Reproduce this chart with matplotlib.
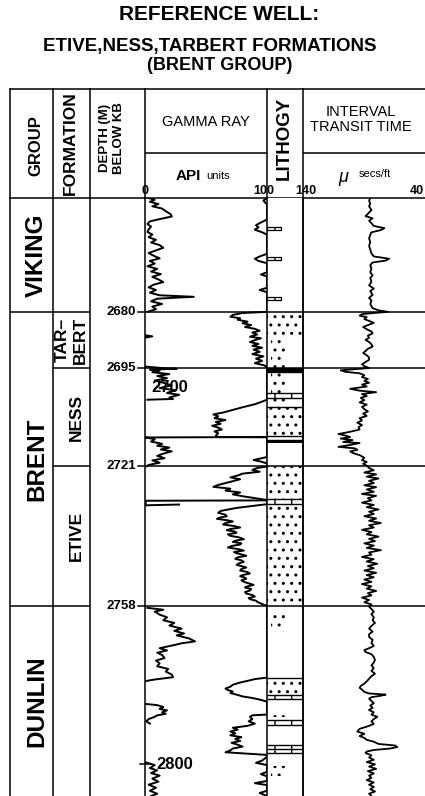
import numpy as np
import matplotlib
matplotlib.use('Agg')
import matplotlib.pyplot as plt

plt.rcParams['font.family'] = ['Liberation Sans', 'DejaVu Sans']
plt.rcParams['hatch.linewidth'] = 1.0

nan = np.nan

top_depth, bot_depth = 2649.8, 2808.4

group_names = ['VIKING', 'BRENT', 'DUNLIN']
group_tops = [2649.8, 2680, 2758]
group_bases = [2680, 2758, 2808.4]

formation_names = ['TAR\u2013\nBERT', 'NESS', 'ETIVE']
formation_tops = [2680, 2695, 2721]
formation_bases = [2695, 2721, 2758]

depth_marks = [2680, 2695, 2721, 2758]
depth_notes = [2700, 2800]

# gamma ray, main trace (API, 0-100 scale, off-scale values sit at 100)
gr_depth = [2649.8, 2650.5, 2651.5, 2655.5, 2656.3, 2657.0, 2657.6, 2658.2, 2658.9, 2659.5,
            2664.6, 2665.3, 2665.9, 2666.5, 2667.1, 2669.5, 2670.1, 2670.6, 2673.6, 2674.2,
            2674.8, 2680.0,
            2680.3, 2680.8, 2681.3, 2681.7, 2682.1, 2682.6, 2683.0, 2683.5, 2684.0, 2684.5,
            2685.0, 2685.5, 2686.0, 2686.6, 2687.0, 2687.5, 2688.0, 2688.5, 2689.0, 2689.5,
            2690.0, 2690.6, 2691.2, 2691.8, 2692.4, 2693.0, 2693.6, 2694.2, 2694.8, 2695.0,
            2703.3, 2703.8, 2704.5, 2705.3, 2706.0, 2706.7, 2707.2, 2707.7, 2708.2, 2708.7,
            2709.2, 2709.7, 2710.2, 2710.7, 2711.2, 2711.7, 2712.2, 2712.8, 2713.2, 2713.25,
            2718.5, 2719.0, 2719.3, 2719.7, 2720.2, 2721.0,
            2721.4, 2721.9, 2722.4, 2722.9, 2723.4, 2723.9, 2724.4, 2724.9, 2725.4, 2725.9,
            2726.4, 2726.9, 2727.4, 2727.9, 2728.4, 2728.9, 2729.4, 2729.9, 2731.0, 2732.0,
            2732.8, 2733.3, 2733.8, 2734.2, 2734.6, 2734.9, 2735.3, 2735.6, 2736.0, 2736.4,
            2736.8, 2737.2, 2737.6, 2737.9, 2738.3, 2738.6, 2739.0, 2739.4, 2739.8, 2740.3,
            2740.7, 2741.0, 2741.4, 2741.7, 2742.1, 2742.5, 2742.9, 2743.3, 2743.7, 2744.0,
            2744.4, 2744.7, 2745.1, 2745.5, 2745.9, 2746.3, 2746.7, 2747.1, 2747.5, 2747.8,
            2748.2, 2748.6, 2749.0, 2749.4, 2749.8, 2750.1, 2750.5, 2750.8, 2751.2, 2751.6,
            2752.0, 2752.4, 2752.8, 2753.1, 2753.5, 2753.9, 2754.3, 2754.7, 2755.1, 2755.5,
            2755.9, 2756.2, 2756.6, 2756.9, 2757.5, 2758.0,
            2777.0, 2777.4, 2777.8, 2778.3, 2778.9, 2779.4, 2779.9, 2780.3, 2780.7, 2781.1,
            2781.6, 2782.0, 2782.4, 2782.9, 2783.4, 2786.8, 2787.0, 2787.4, 2788.0, 2788.6,
            2789.2, 2789.8, 2790.3, 2790.8, 2791.3, 2791.8, 2792.3, 2792.8, 2793.3, 2793.8,
            2794.3, 2794.8, 2795.3, 2795.8, 2796.3, 2796.8, 2797.2, 2797.5, 2798.0, 2799.0,
            2799.6, 2800.2, 2802.0, 2802.6, 2803.2, 2804.4, 2805.0, 2805.5, 2807.0, 2807.6,
            2808.4]
gr_api = [100, 97, 100, 100, 95, 91, 93, 90, 96, 100,
          100, 94, 90, 93, 100, 100, 95, 100, 100, 94,
          100, 100,
          80, 72, 70, 78, 76, 84, 80, 87, 82, 90,
          94, 88, 92, 86, 95, 90, 86, 93, 88, 96,
          89, 94, 88, 97, 91, 96, 90, 98, 100, 100,
          100, 96, 90, 80, 72, 64, 56, 60, 57, 66,
          58, 62, 55, 60, 63, 57, 60, 58, 60, 100,
          100, 93, 89, 95, 100, 100,
          92, 88, 94, 80, 76, 70, 78, 72, 66, 60,
          56, 70, 66, 78, 72, 80, 90, 100, 100, 75,
          62, 60, 66, 67, 61, 59, 68, 72, 66, 64,
          73, 78, 70, 67, 74, 75, 68, 70, 77, 81,
          74, 72, 79, 78, 71, 68, 76, 81, 73, 75,
          80, 83, 76, 74, 79, 81, 77, 75, 80, 83,
          79, 78, 84, 86, 80, 78, 82, 83, 79, 81,
          85, 89, 84, 82, 87, 86, 82, 83, 88, 90,
          85, 86, 91, 92, 96, 100,
          100, 90, 85, 78, 72, 70, 66, 68, 72, 70,
          76, 80, 88, 95, 100, 100, 88, 86, 88, 85,
          90, 84, 72, 76, 70, 74, 70, 79, 74, 78,
          71, 76, 80, 72, 70, 66, 85, 100, 100, 96,
          91, 100, 100, 95, 100, 100, 90, 100, 100, 94,
          100]

# gamma ray, wrapped trace (values above 100 API re-plotted from 0)
gr_wrap_depth = [2649.8, 2650.3, 2650.8, 2651.4, 2652.0, 2652.6, 2653.3, 2654.1, 2654.7, 2655.4,
                 2656.0, 2656.7, 2657.4, 2658.1, 2658.8, 2659.5, 2660.2, 2660.9, 2661.6, 2662.3,
                 2663.0, 2663.7, 2664.4, 2665.1, 2665.8, 2666.5, 2667.2, 2667.9, 2668.6, 2669.3,
                 2670.0, 2670.7, 2671.4, 2672.1, 2672.8, 2673.5, 2674.2, 2674.9, 2675.6, 2676.0,
                 2676.5, 2677.2, 2677.9, 2678.6, 2679.3, 2680.0, nan,
                 2686.2, 2686.5, 2686.8, nan,
                 2694.5, 2694.9, 2695.1, 2695.3, 2695.6, 2696.0, 2696.5, 2697.0, 2697.6, 2698.2,
                 2698.8, 2699.5, 2700.2, 2700.8, 2701.5, 2702.0, 2702.7, 2703.1, 2703.3, nan,
                 2713.2, 2713.3, 2713.8, 2714.4, 2715.0, 2715.5, 2716.0, 2716.5, 2717.0, 2717.6,
                 2718.2, 2718.8, 2719.4, 2720.0, 2720.6, 2721.0, nan,
                 2730.0, 2730.1, 2731.3, 2731.1, nan,
                 2758.5, 2759.0, 2759.5, 2760.3, 2761.0, 2761.8, 2762.5, 2763.2, 2764.0, 2764.6,
                 2765.3, 2765.8, 2766.6, 2767.4, 2767.9, 2768.5, 2769.2, 2769.8, 2770.4, 2771.0,
                 2771.8, 2772.5, 2773.2, 2774.0, 2774.7, 2775.4, 2776.2, 2776.9, 2777.5, 2777.9, nan,
                 2784.0, 2784.3, 2784.8, 2785.3, 2785.7, 2786.2, 2786.6, 2787.0, 2787.4, 2788.0,
                 2788.6, 2789.2, nan,
                 2799.5, 2800.2, 2801.0, 2801.6, 2802.3, 2803.0, 2803.8, 2804.6, 2805.4, 2806.2,
                 2807.0, 2807.8, 2808.4]
gr_wrap_api = [3, 8, 4, 11, 6, 14, 17, 21, 22, 12,
               4, 2, 5, 3, 2, 6, 3, 9, 5, 12,
               15, 9, 3, 7, 12, 4, 8, 2, 10, 5,
               13, 6, 11, 15, 7, 3, 9, 4, 12, 40,
               10, 5, 14, 6, 9, 2, nan,
               0.5, 6, 0.5, nan,
               0.5, 14, 26, 4, 12, 6, 20, 10, 18, 8,
               15, 22, 12, 25, 18, 28, 20, 23, 2, nan,
               100, 0.5, 8, 5, 14, 10, 20, 13, 22, 15,
               10, 16, 6, 12, 3, 1, nan,
               100, 0.5, 0.5, 28, nan,
               2, 15, 8, 12, 18, 15, 24, 20, 30, 24,
               32, 26, 36, 41, 30, 22, 12, 18, 10, 14,
               16, 9, 12, 10, 19, 17, 22, 23, 8, 1, nan,
               1, 10, 15, 12, 18, 14, 17, 10, 8, 3,
               1, 4, nan,
               1, 8, 4, 10, 5, 12, 6, 11, 3, 9,
               4, 10, 5]

# interval transit time (micro-sec/ft)
itt_depth = [2649.8, 2650.5, 2651.3, 2652.0, 2653.0, 2654.0, 2654.6, 2655.2, 2655.8, 2656.5,
             2657.2, 2657.8, 2658.3, 2658.9, 2659.6, 2660.5, 2661.5, 2662.5, 2663.5, 2664.5,
             2665.3, 2665.9, 2666.4, 2666.9, 2667.6, 2668.5, 2669.5, 2670.3, 2671.0, 2672.0,
             2673.0, 2673.8, 2674.5, 2675.5, 2676.3, 2677.0, 2678.0, 2679.0, 2679.6, 2680.0,
             2680.3, 2680.6, 2681.0, 2681.4, 2681.9, 2682.4, 2682.9, 2683.4, 2684.0, 2684.6,
             2685.2, 2685.7, 2686.3, 2686.9, 2687.4, 2688.0, 2688.6, 2689.2, 2689.8, 2690.4,
             2690.9, 2691.5, 2692.1, 2692.7, 2693.3, 2693.9, 2694.4, 2694.9, 2695.2, 2695.5,
             2695.9, 2696.3, 2696.8, 2697.3, 2697.8, 2698.3, 2698.8, 2699.3, 2699.8, 2700.4,
             2700.9, 2701.3, 2701.8, 2702.3, 2702.8, 2703.4, 2704.0, 2704.6, 2705.2, 2705.8,
             2706.4, 2707.0, 2707.6, 2708.2, 2708.8, 2709.4, 2710.0, 2710.6, 2711.2, 2711.8,
             2712.4, 2712.8, 2713.2, 2713.6, 2714.0, 2714.5, 2714.8, 2715.3, 2715.8, 2716.2,
             2716.6, 2717.0, 2717.4, 2718.0, 2718.7, 2719.3, 2719.8, 2720.3, 2720.8, 2721.4,
             2722.0, 2722.6, 2723.1, 2723.7, 2724.2, 2724.8, 2725.4, 2726.0, 2726.5, 2727.1,
             2727.7, 2728.3, 2728.8, 2729.4, 2730.0, 2730.6, 2731.2, 2731.8, 2732.4, 2733.0,
             2733.6, 2734.2, 2734.8, 2735.4, 2736.0, 2736.6, 2737.2, 2737.8, 2738.4, 2739.0,
             2739.6, 2740.2, 2740.8, 2741.4, 2742.0, 2742.6, 2743.2, 2743.8, 2744.4, 2745.0,
             2745.6, 2746.2, 2746.8, 2747.4, 2748.0, 2748.6, 2749.2, 2749.8, 2750.4, 2751.0,
             2751.6, 2752.2, 2752.8, 2753.4, 2754.0, 2754.6, 2755.2, 2755.8, 2756.4, 2757.0,
             2757.6, 2758.2, 2758.8, 2759.5, 2760.2, 2761.0, 2761.8, 2762.5, 2763.3, 2764.0,
             2764.8, 2765.5, 2766.2, 2767.0, 2767.8, 2768.6, 2769.2, 2769.7, 2770.2, 2770.8,
             2771.5, 2772.3, 2773.0, 2773.8, 2774.5, 2775.2, 2776.0, 2776.6, 2777.3, 2778.0,
             2778.6, 2779.2, 2779.7, 2780.2, 2780.8, 2781.2, 2781.5, 2781.8, 2782.2, 2782.6,
             2783.2, 2783.8, 2784.4, 2785.0, 2785.6, 2786.2, 2786.8, 2787.4, 2788.0, 2788.6,
             2789.3, 2790.0, 2790.6, 2791.3, 2791.9, 2792.5, 2793.0, 2793.5, 2794.0, 2794.6,
             2795.0, 2795.4, 2795.8, 2796.2, 2796.6, 2797.0, 2797.6, 2798.2, 2798.8, 2799.4,
             2800.0, 2800.6, 2801.2, 2801.8, 2802.4, 2803.0, 2803.6, 2804.2, 2804.8, 2805.4,
             2806.0, 2806.6, 2807.2, 2807.8, 2808.4]
itt_us = [83, 84, 83, 84, 82, 85, 87, 81, 84, 82,
          80, 71, 74, 82, 83, 84, 83, 84, 83, 82,
          80, 67, 70, 81, 83, 82, 83, 81, 83, 82,
          84, 80, 83, 81, 84, 82, 83, 81, 76, 68,
          80, 90, 92, 86, 88, 84, 80, 84, 89, 86,
          82, 81, 85, 84, 87, 84, 82, 81, 85, 87,
          89, 86, 84, 84, 87, 90, 88, 84, 96, 108,
          104, 92, 88, 90, 85, 88, 84, 90, 86, 100,
          92, 78, 90, 86, 91, 88, 92, 86, 90, 88,
          85, 89, 86, 92, 90, 94, 90, 93, 92, 100,
          110, 104, 100, 108, 98, 106, 92, 100, 110, 96,
          94, 100, 98, 92, 88, 90, 86, 89, 86, 84,
          80, 88, 78, 86, 76, 84, 80, 88, 78, 86,
          80, 90, 78, 85, 82, 90, 80, 86, 76, 84,
          80, 88, 78, 84, 74, 84, 80, 90, 82, 86,
          76, 84, 79, 88, 80, 86, 74, 84, 82, 90,
          80, 86, 77, 85, 80, 88, 78, 86, 80, 88,
          82, 90, 82, 86, 78, 85, 82, 90, 84, 88,
          82, 84, 82, 80, 82, 80, 81, 79, 82, 84,
          81, 84, 84, 81, 82, 80, 84, 88, 87, 82,
          80, 79, 80, 82, 80, 82, 79, 82, 84, 86,
          88, 91, 92, 90, 88, 84, 70, 74, 82, 84,
          82, 80, 83, 81, 84, 80, 82, 77, 80, 82,
          80, 86, 92, 94, 88, 92, 88, 86, 80, 76,
          62, 60, 66, 80, 86, 87, 82, 84, 80, 86,
          79, 84, 78, 85, 80, 84, 82, 86, 80, 84,
          80, 83, 79, 84, 82]

# lithology column
lith_tops = [2649.8, 2680.0, 2686.5, 2695.0, 2695.9, 2701.6, 2702.8, 2705.2, 2712.9, 2714.0,
             2714.9, 2721.0, 2729.6, 2730.9, 2758.0, 2777.2, 2781.5, 2782.6, 2788.3, 2789.5,
             2794.9, 2795.9, 2797.0]
lith_bases = [2680.0, 2686.5, 2695.0, 2695.9, 2701.6, 2702.8, 2705.2, 2712.9, 2714.0, 2714.9,
              2721.0, 2729.6, 2730.9, 2758.0, 2777.2, 2781.5, 2782.6, 2788.3, 2789.5, 2794.9,
              2795.9, 2797.0, 2808.4]
lith_types = ['shale', 'sand', 'shale', 'coal', 'shale', 'lime', 'shale', 'sand', 'shale', 'coal',
              'shale', 'sand', 'lime', 'sand', 'shale', 'sand', 'lime', 'shale', 'lime', 'shale',
              'lime', 'lime', 'shale']
lith_bounds = [2695.9, 2701.6, 2702.8, 2705.2, 2712.9, 2714.0, 2729.6, 2730.9,
               2777.2, 2781.5, 2782.6, 2788.3, 2789.5, 2794.9, 2795.9, 2797.0]
silt_tops = [2686.5, 2695.9, 2702.9, 2759.2, 2786.6, 2800.4]
silt_bases = [2695.0, 2701.5, 2705.1, 2765.0, 2787.4, 2803.2]
stringer_tops = [2657.5, 2665.5, 2676.1]
stringer_bases = [2658.3, 2666.3, 2676.9]

# ---------------- layout ----------------
W, H = 425, 796
fig = plt.figure(figsize=(W / 100, H / 100), dpi=100)


def box(x0, y0, x1, y1):
    return [x0 / W, 1 - y1 / H, (x1 - x0) / W, (y1 - y0) / H]


col_edges = [10, 53, 90, 145, 267, 303, 425]
head_top, head_bot = 89, 198
lw_frame = 1.1

heads = []
body = []
for i in range(6):
    x0, x1 = col_edges[i], col_edges[i + 1]
    hx = fig.add_axes(box(x0, head_top, x1, head_bot))
    bx = fig.add_axes(box(x0, head_bot, x1, H), sharey=body[0] if body else None)
    for a in (hx, bx):
        a.set_facecolor('none')
        a.set_xticks([])
        a.set_yticks([])
        for s in a.spines.values():
            s.set_linewidth(lw_frame)
        a.spines['right'].set_visible(False)
    bx.spines['top'].set_visible(False)
    bx.spines['bottom'].set_visible(False)
    heads.append(hx)
    body.append(bx)

h_grp, h_fm, h_dep, h_gr, h_lith, h_itt = heads
ax_grp, ax_fm, ax_dep, ax_gr, ax_lith, ax_itt = body

ax_grp.set_ylim(bot_depth, top_depth)
ax_gr.set_xlim(0, 100)
ax_lith.set_xlim(0, 1)
ax_itt.set_xlim(140, 36.6)
h_itt.set_xlim(140, 36.6)
h_gr.set_xlim(0, 100)
for a in body:
    a.tick_params(left=False, labelleft=False)

# ---------------- title ----------------
fig.text(219 / W, 1 - 15 / H, 'REFERENCE WELL:', ha='center', va='center',
         fontsize=15, fontweight='bold')
fig.text(210 / W, 1 - 46 / H, 'ETIVE,NESS,TARBERT FORMATIONS', ha='center', va='center',
         fontsize=13.5, fontweight='bold')
fig.text(220 / W, 1 - 65 / H, '(BRENT GROUP)', ha='center', va='center',
         fontsize=13, fontweight='bold')

# ---------------- column headers ----------------
h_grp.text(0.6, 0.48, 'GROUP', rotation=90, ha='center', va='center',
           fontsize=12, fontweight='bold', transform=h_grp.transAxes)
h_fm.text(0.46, 0.5, 'FORMATION', rotation=90, ha='center', va='center',
          fontsize=12.5, fontweight='bold', transform=h_fm.transAxes)
h_dep.text(0.4, 0.55, 'DEPTH (M)\nBELOW KB', rotation=90, ha='center', va='center',
           fontsize=9.5, fontweight='bold', linespacing=1.3, transform=h_dep.transAxes)
h_lith.text(0.48, 0.55, 'LITHOGY', rotation=90, ha='center', va='center',
            fontsize=13.5, fontweight='bold', transform=h_lith.transAxes)

h_gr.axhline(0.413, color='black', lw=lw_frame)
h_gr.text(50, 0.70, 'GAMMA RAY', ha='center', va='center', fontsize=10.5)
h_gr.text(46, 0.2, 'API', ha='right', va='center', fontsize=11, fontweight='bold')
h_gr.text(50, 0.2, 'units', ha='left', va='center', fontsize=8)
h_gr.text(0, 0.06, '0', ha='center', va='center', fontsize=9, fontweight='bold')
h_gr.text(97.5, 0.06, '100', ha='center', va='center', fontsize=9, fontweight='bold')

h_itt.axhline(0.413, color='black', lw=lw_frame)
h_itt.text(91, 0.72, 'INTERVAL\nTRANSIT TIME', ha='center', va='center',
           fontsize=10.5, linespacing=1.1)
h_itt.text(106, 0.19, '\u03bc', ha='center', va='center', fontsize=13, style='italic')
h_itt.text(93, 0.22, 'secs/ft', ha='left', va='center', fontsize=8)
h_itt.text(138, 0.06, '140', ha='center', va='center', fontsize=9, fontweight='bold')
h_itt.text(37.6, 0.06, '40', ha='right', va='center', fontsize=9, fontweight='bold')

# ---------------- group / formation / depth columns ----------------
for name, t, b in zip(group_names, group_tops, group_bases):
    ax_grp.text(0.62, (t + b) / 2, name, rotation=90, ha='center', va='center',
                fontsize=17.5, fontweight='bold', transform=ax_grp.get_yaxis_transform())
for t in group_tops[1:]:
    ax_grp.axhline(t, color='black', lw=lw_frame)

for name, t, b in zip(formation_names, formation_tops, formation_bases):
    xpos = 0.5 if '\n' in name else 0.62
    ax_fm.text(xpos, (t + b) / 2, name, rotation=90, ha='center', va='center',
               fontsize=12.5, fontweight='bold', linespacing=1.25,
               transform=ax_fm.get_yaxis_transform())
for d in depth_marks:
    ax_fm.axhline(d, color='black', lw=lw_frame)

for d in depth_marks:
    ax_dep.text(0.84, d, str(d), ha='right', va='center', fontsize=9.5, fontweight='bold',
                transform=ax_dep.get_yaxis_transform())
    ax_dep.axhline(d, xmin=0.87, xmax=1, color='black', lw=lw_frame)
ax_dep.axhline(depth_notes[1], xmin=0.91, xmax=1, color='black', lw=lw_frame)

# ---------------- gamma ray track ----------------
for d in depth_marks:
    ax_gr.axhline(d, color='black', lw=lw_frame)
ax_gr.plot(gr_api, gr_depth, color='black', lw=1.4)
ax_gr.plot(gr_wrap_api, gr_wrap_depth, color='black', lw=1.4)
ax_gr.hlines(depth_notes[1], 0, 5, color='black', lw=lw_frame)
ax_gr.text(5.5, depth_notes[0], str(depth_notes[0]), ha='left', va='center',
           fontsize=12, fontweight='bold')
ax_gr.text(9.5, depth_notes[1], str(depth_notes[1]), ha='left', va='center',
           fontsize=12, fontweight='bold')

# ---------------- lithology track ----------------
styles = {'shale': dict(facecolor='white', hatch=None),
          'sand': dict(facecolor='white', hatch='..'),
          'lime': dict(facecolor='white', hatch='|'),
          'coal': dict(facecolor='black', hatch=None)}
for t, b, kind in zip(lith_tops, lith_bases, lith_types):
    ax_lith.fill_betweenx([t, b], 0, 1, edgecolor='black', linewidth=0, **styles[kind])
for t, b in zip(silt_tops, silt_bases):
    ax_lith.fill_betweenx([t, b], 0.1, 0.5, facecolor='none', edgecolor='black',
                          hatch='..', linewidth=0)
for t, b in zip(stringer_tops, stringer_bases):
    ax_lith.fill_betweenx([t, b], 0, 0.38, facecolor='white', edgecolor='black',
                          hatch='|', linewidth=0.9)
ax_lith.hlines(lith_bounds, 0, 1, color='black', lw=1.0)
for d in depth_marks:
    ax_lith.axhline(d, color='black', lw=lw_frame)
ax_lith.spines['right'].set_visible(True)
ax_lith.spines['right'].set_linewidth(lw_frame)

# ---------------- interval transit time track ----------------
for d in depth_marks:
    ax_itt.axhline(d, color='black', lw=lw_frame)
ax_itt.plot(itt_us, itt_depth, color='black', lw=1.3)

fig.savefig('out.png', dpi=100)
